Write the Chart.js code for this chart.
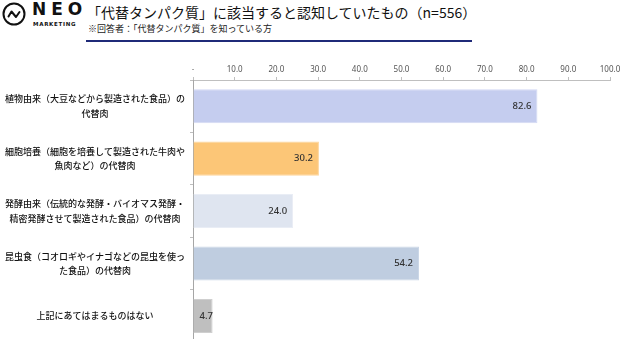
<!DOCTYPE html>
<html>
<head>
<meta charset="utf-8">
<script src="https://cdn.jsdelivr.net/npm/chart.js@4.4.1/dist/chart.umd.min.js"></script>
<style>
  html, body { margin: 0; padding: 0; background: #fff; overflow: hidden; }
  #wrap { position: relative; width: 627px; height: 339px; overflow: hidden; font-family: "Noto Sans CJK JP", "Noto Sans", sans-serif; }
  #grafica { position: absolute; left: 0; top: 0; }
  .logo { position: absolute; left: 2px; top: 2px; }
  .neo { position: absolute; left: 32px; top: -1px; font-family: "DejaVu Sans", sans-serif; font-weight: bold; font-size: 17px; letter-spacing: 5px; color: #111; }
  .mkt { position: absolute; left: 33px; top: 21px; font-family: "DejaVu Sans", sans-serif; font-weight: bold; font-size: 5.5px; letter-spacing: 0.7px; color: #111; }
  .titulo { position: absolute; left: 87px; top: 2px; font-size: 14px; color: #111; white-space: nowrap; }
  .subtitulo { position: absolute; left: 88px; top: 22px; font-size: 9px; color: #222; white-space: nowrap; }
  .linea { position: absolute; left: 86px; top: 40px; width: 386px; height: 2px; background: #1f2a78; }
</style>
</head>
<body>
<div id="wrap">
  <svg class="logo" width="26" height="26" viewBox="0 0 26 26">
    <circle cx="12" cy="12" r="10.5" fill="none" stroke="#111" stroke-width="2"/>
    <path d="M6.5 14.5 L9.5 9.5 L14 15 L17.5 10" fill="none" stroke="#111" stroke-width="2" stroke-linecap="round" stroke-linejoin="round"/>
  </svg>
  <div class="neo">NEO</div>
  <div class="mkt">MARKETING</div>
  <div class="titulo">「代替タンパク質」に該当すると認知していたもの（n=556）</div>
  <div class="subtitulo">※回答者：「代替タンパク質」を知っている方</div>
  <div class="linea"></div>
  <canvas id="grafica" width="627" height="362"></canvas>
</div>
<script>
// Categorías (etiquetas del eje Y, en varias líneas)
const categorias = [
    ["植物由来（大豆などから製造された食品）の", "代替肉"],
    ["細胞培養（細胞を培養して製造された牛肉や", "魚肉など）の代替肉"],
    ["発酵由来（伝統的な発酵・バイオマス発酵・", "精密発酵させて製造された食品）の代替肉"],
    ["昆虫食（コオロギやイナゴなどの昆虫を使っ", "た食品）の代替肉"],
    ["上記にあてはまるものはない"]
];
// Valores (%)
const valores = [82.6, 30.2, 24.0, 54.2, 4.7];
// Etiquetas del eje X
const etiquetasX = ["-", "10.0", "20.0", "30.0", "40.0", "50.0", "60.0", "70.0", "80.0", "90.0", "100.0"];
const colores = ["#c5cdef", "#fcc677", "#dfe5f0", "#bfcde0", "#bfbfbf"];
const bordes = ["#d3d9f4", "#fdd59a", "#e9edf5", "#ccd7e7", "#cfcfcf"];

// Plugin para dibujar los valores dentro de las barras
const etiquetasValor = {
    id: "etiquetasValor",
    afterDatasetsDraw(chart) {
        const ctx = chart.ctx;
        const meta = chart.getDatasetMeta(0);
        ctx.save();
        ctx.font = "500 9.5px 'Noto Sans', sans-serif";
        ctx.fillStyle = "#333";
        ctx.textAlign = "right";
        ctx.textBaseline = "middle";
        meta.data.forEach((bar, i) => {
            const texto = valores[i].toFixed(1);
            const ancho = ctx.measureText(texto).width;
            let x = bar.x - 6;
            if (x - ancho < bar.base + 6) x = bar.base + 6 + ancho;
            ctx.fillText(texto, x, bar.y);
        });
        ctx.restore();
    }
};

const ctx = document.getElementById("grafica").getContext("2d");
new Chart(ctx, {
    type: "bar",
    data: {
        labels: categorias,
        datasets: [{
            data: valores,
            backgroundColor: colores,
            borderColor: bordes,
            borderWidth: 1,
            barPercentage: 0.65,
            categoryPercentage: 1
        }]
    },
    options: {
        indexAxis: "y",
        responsive: false,
        animation: false,
        layout: { padding: { top: 0, right: 17, bottom: 2, left: 0 } },
        plugins: {
            legend: { display: false },
            tooltip: { enabled: false }
        },
        scales: {
            x: {
                position: "top",
                min: 0,
                max: 100,
                afterFit: function (scale) { scale.height = 80; },
                ticks: {
                    stepSize: 10,
                    padding: 2,
                    color: "#555",
                    font: { family: "'Noto Sans', sans-serif", size: 8 },
                    callback: function (valor, indice) { return etiquetasX[indice]; }
                },
                grid: { drawOnChartArea: false, tickLength: 3, color: "#bfbfbf" },
                border: { color: "#bfbfbf" }
            },
            y: {
                afterFit: function (scale) { scale.width = 193; },
                ticks: {
                    crossAlign: "center",
                    padding: 5,
                    color: "#111",
                    font: { family: "'Noto Sans CJK JP', sans-serif", size: 9, weight: 500, lineHeight: 1.65 }
                },
                grid: { offset: true, drawOnChartArea: false, tickLength: 3, color: "#bfbfbf" },
                border: { color: "#a6a6a6" }
            }
        }
    },
    plugins: [etiquetasValor]
});
</script>
</body>
</html>
